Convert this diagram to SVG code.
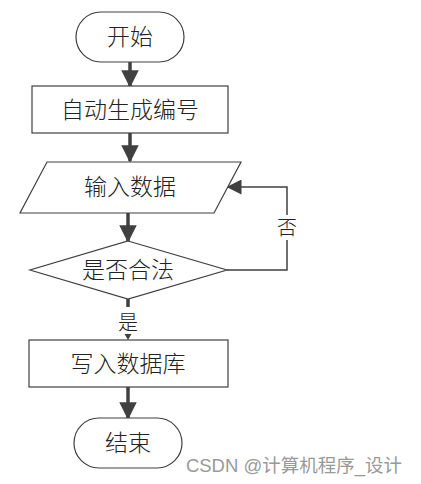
<svg xmlns="http://www.w3.org/2000/svg" width="421" height="484" viewBox="0 0 421 484">
<style>
.s{fill:#fff;stroke:#404040;stroke-width:1.2}
.t{font-family:"Noto Sans CJK SC","Liberation Sans",sans-serif;font-size:23px;font-weight:300;fill:#222;text-anchor:middle}
.c{stroke:#404040;stroke-width:3.5;fill:none}
.l{stroke:#404040;stroke-width:1.5;fill:none}
</style>
<defs>
<marker id="ah" markerWidth="5" markerHeight="5" refX="4.5" refY="2.5" orient="auto" markerUnits="strokeWidth">
<path d="M0,0 L5,2.5 L0,5 Z" fill="#404040"/>
</marker>
<marker id="ah2" markerWidth="10" markerHeight="10" refX="9" refY="5" orient="auto" markerUnits="strokeWidth">
<path d="M0,0 L10,5 L0,10 Z" fill="#404040"/>
</marker>
</defs>
<rect width="421" height="484" fill="#fff"/>
<g id="connectors">
<line class="c" x1="130" y1="62" x2="130" y2="86" marker-end="url(#ah)"/>
<line class="c" x1="130" y1="133" x2="130" y2="161" marker-end="url(#ah)"/>
<line class="c" x1="128" y1="213" x2="128" y2="241" marker-end="url(#ah)"/>
<polyline class="l" points="227,270 287,270 287,240"/>
<polyline class="l" points="287,215 287,187 228,187" marker-end="url(#ah2)"/>
<line class="c" x1="128" y1="299" x2="128" y2="307"/>
<path d="M124.5,334 L131.5,334 L128,340 Z" fill="#404040"/>
<line class="c" x1="128" y1="387" x2="128" y2="418" marker-end="url(#ah)"/>
<text class="t" x="287" y="235" style="font-size:20px">否</text>
<text class="t" x="128" y="330" style="font-size:20px">是</text>
</g>
<g id="start">
<rect class="s" x="76" y="12" width="108" height="50" rx="25"/>
<text class="t" x="130" y="45">开始</text>
</g>
<g id="gen">
<rect class="s" x="32" y="86" width="196" height="47"/>
<text class="t" x="130" y="118">自动生成编号</text>
</g>
<g id="input">
<polygon class="s" points="47,162 241,162 214,213 20,213"/>
<text class="t" x="130" y="195">输入数据</text>
</g>
<g id="check">
<polygon class="s" points="128,241 227,270 128,299 30,270"/>
<text class="t" x="128" y="278">是否合法</text>
</g>
<g id="write">
<rect class="s" x="29" y="340" width="199" height="47"/>
<text class="t" x="128" y="372">写入数据库</text>
</g>
<g id="end">
<rect class="s" x="74" y="418" width="108" height="50" rx="25"/>
<text class="t" x="128" y="451">结束</text>
</g>
<text x="294" y="472" style="font-family:'Liberation Sans','Noto Sans CJK SC',sans-serif;font-size:18.5px;fill:#999;text-anchor:middle">CSDN @计算机程序_设计</text>
</svg>
